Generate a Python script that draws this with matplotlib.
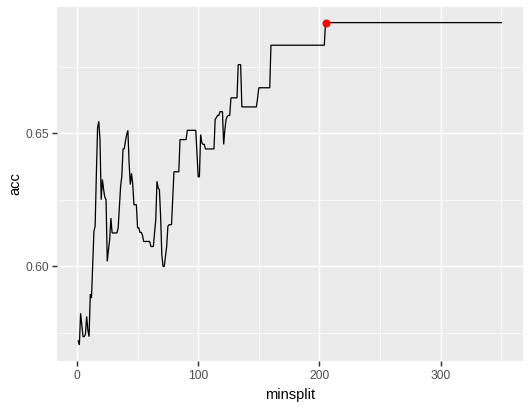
import numpy as np
import matplotlib
matplotlib.use("Agg")
import matplotlib.pyplot as plt
from matplotlib.ticker import FixedLocator

# Step data: each entry is the first minsplit of a run and its accuracy
run_start = [1, 2, 3, 4, 5, 7, 8, 9, 10, 11, 12, 13, 14, 15, 16, 17, 18, 19, 20,
             21, 22, 23, 24, 25, 26, 27, 28, 29, 34, 35, 36, 37, 38, 40, 41, 42,
             43, 44, 45, 46, 47, 50, 52, 54, 55, 61, 64, 65, 66, 67, 68, 69, 70,
             71, 73, 74, 75, 76, 79, 80, 85, 91, 99, 100, 102, 103, 104, 106,
             114, 115, 116, 118, 121, 122, 123, 124, 125, 127, 133, 136, 149,
             150, 160, 205]
run_acc = [0.5720, 0.5705, 0.5824, 0.5780, 0.5736, 0.5745, 0.5812, 0.5761, 0.5736,
           0.5896, 0.5881, 0.6003, 0.6132, 0.6151, 0.6345, 0.6521, 0.6546, 0.6477,
           0.6251, 0.6327, 0.6289, 0.6260, 0.6251, 0.6019, 0.6063, 0.6101, 0.6182,
           0.6126, 0.6145, 0.6226, 0.6301, 0.6339, 0.6442, 0.6471, 0.6496, 0.6512,
           0.6390, 0.6308, 0.6350, 0.6310, 0.6232, 0.6145, 0.6128, 0.6119, 0.6094,
           0.6075, 0.6126, 0.6176, 0.6320, 0.6295, 0.6289, 0.6188, 0.6044, 0.6000,
           0.6038, 0.6075, 0.6151, 0.6157, 0.6258, 0.6356, 0.6477, 0.6512, 0.6427,
           0.6337, 0.6496, 0.6465, 0.6459, 0.6442, 0.6553, 0.6560, 0.6568, 0.6582,
           0.6459, 0.6515, 0.6553, 0.6565, 0.6568, 0.6634, 0.6759, 0.6600, 0.6634,
           0.6672, 0.6832, 0.6917]
minsplit_max = 350

x_ticks = [0, 100, 200, 300]
y_ticks = [0.60, 0.65]
y_tick_labels = ["0.60", "0.65"]

# expand runs to one value per minsplit
bounds = run_start + [minsplit_max + 1]
lengths = np.diff(bounds)
minsplit = np.arange(run_start[0], minsplit_max + 1)
acc = np.repeat(run_acc, lengths)
best = int(np.argmax(acc))

plt.rcParams['font.family'] = ['Liberation Sans', 'DejaVu Sans']

fig = plt.figure(figsize=(5.5, 4.25), dpi=96)
ax = fig.add_axes([57 / 528, 1 - 361 / 408, (522.5 - 57) / 528, (361 - 6.5) / 408])
ax.set_facecolor('#EBEBEB')
for s in ax.spines.values():
    s.set_visible(False)

ax.plot(minsplit, acc, color='black', lw=0.95, solid_joinstyle='miter', zorder=3)
ax.plot(minsplit[best], acc[best], 'o', color='red', ms=5, zorder=4)

xr = minsplit.max() - minsplit.min()
ax.set_xlim(minsplit.min() - 0.05 * xr, minsplit.max() + 0.05 * xr)
yr = acc.max() - acc.min()
ax.set_ylim(acc.min() - 0.05 * yr, acc.max() + 0.05 * yr)

ax.xaxis.set_major_locator(FixedLocator(x_ticks))
ax.xaxis.set_minor_locator(FixedLocator([50, 150, 250, 350]))
ax.yaxis.set_major_locator(FixedLocator(y_ticks))
ax.set_yticklabels(y_tick_labels)
ax.yaxis.set_minor_locator(FixedLocator([0.575, 0.625, 0.675]))

ax.grid(which='major', color='white', lw=1.1, zorder=0)
ax.grid(which='minor', color='white', lw=0.55, zorder=0)
ax.set_axisbelow(True)

ax.tick_params(which='major', length=3.5, width=1.1, color='#333333',
               labelsize=9, labelcolor='#4D4D4D', pad=2.5)
ax.tick_params(axis='x', which='major', pad=3.5)
ax.tick_params(which='minor', length=0)

ax.set_xlabel('minsplit', fontsize=11, color='black', labelpad=4.5)
ax.set_ylabel('acc', fontsize=11, color='black', labelpad=2.5)

fig.savefig('out.png', dpi=96, facecolor='white')
